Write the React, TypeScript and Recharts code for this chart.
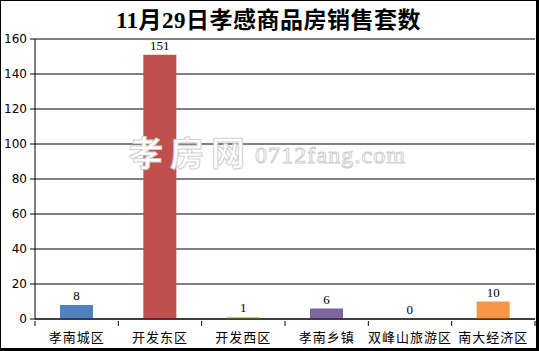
import { Bar, BarChart, CartesianGrid, Cell, XAxis, YAxis } from "recharts";

// data
const districts = ["孝南城区", "开发东区", "开发西区", "孝南乡镇", "双峰山旅游区", "南大经济区"];
const sales = [8, 151, 1, 6, 0, 10];
const yTicks = [0, 20, 40, 60, 80, 100, 120, 140, 160];
const barColors = ["#4F81BD", "#C0504D", "#9BBB59", "#8064A2", "#4BACC6", "#F79646"];

const data = districts.map((name, i) => ({ name, value: sales[i] }));

const W = 539;
const H = 351;
const cjk = '"Noto Sans CJK SC", "Liberation Sans", sans-serif';

// category label plus the boundary tick marks Excel-style
const CategoryTick = (props: any) => {
  const { x, y, payload, index, visibleTicksCount } = props;
  const band = (W - 35 - 4) / districts.length;
  const left = x - band / 2;
  return (
    <g>
      <line x1={left} y1={y} x2={left} y2={y + 5} stroke="#000" />
      {index === (visibleTicksCount ?? districts.length) - 1 && (
        <line x1={x + band / 2} y1={y} x2={x + band / 2} y2={y + 5} stroke="#000" />
      )}
      <text
        x={x}
        y={y + 21}
        textAnchor="middle"
        fontSize={13}
        fontFamily={cjk}
        letterSpacing={1}
        fill="#000"
      >
        {payload.value}
      </text>
    </g>
  );
};

// value above each bar, drawn even when the bar is zero
const ValueLabel = (props: any) => {
  const { x, y, width, height, value } = props;
  const top = Math.min(y, y + height);
  return (
    <text
      x={x + width / 2}
      y={top - 5}
      textAnchor="middle"
      fontSize={13}
      fontFamily='"Liberation Serif", serif'
      fill="#000"
    >
      {value}
    </text>
  );
};

export default function App() {
  return (
    <div
      style={{
        position: "absolute",
        left: 0,
        top: 0,
        width: W,
        height: H,
        background: "#fff",
        boxSizing: "border-box",
        borderLeft: "1px solid #000",
        borderTop: "1px solid #000",
        borderRight: "3px solid #000",
        borderBottom: "3px solid #000",
      }}
    >
      <div
        style={{
          position: "absolute",
          left: 0,
          top: 5,
          width: W - 4,
          textAlign: "center",
          fontFamily: '"Liberation Serif", "Noto Sans CJK SC", serif',
          fontWeight: "bold",
          fontSize: 23,
          lineHeight: "30px",
          letterSpacing: 0.5,
          color: "#000",
        }}
      >
        11月29日孝感商品房销售套数
      </div>
      <div style={{ position: "absolute", left: -1, top: -1 }}>
        <BarChart
          width={W}
          height={H}
          data={data}
          margin={{ top: 39, right: 4, bottom: 0, left: 0 }}
          barCategoryGap="30%"
        >
          <CartesianGrid vertical={false} stroke="#000" strokeWidth={1} />
          <Bar
            dataKey="value"
            isAnimationActive={false}
            minPointSize={(v: number) => (v === 0 ? 0.05 : 0)}
            label={<ValueLabel />}
          >
            {data.map((d, i) => (
              <Cell key={d.name} fill={barColors[i]} />
            ))}
          </Bar>
          <XAxis
            dataKey="name"
            axisLine={{ stroke: "#000" }}
            tickLine={false}
            tickSize={0}
            height={32}
            interval={0}
            tick={<CategoryTick />}
          />
          <YAxis
            domain={[0, 160]}
            ticks={yTicks}
            width={35}
            axisLine={{ stroke: "#000" }}
            tickLine={{ stroke: "#000" }}
            tickSize={5}
            tickMargin={3}
            tick={{ fontSize: 12, fill: "#000", fontFamily: '"DejaVu Sans", sans-serif' }}
          />
        </BarChart>
      </div>
      {/* site watermark */}
      <svg
        width={W}
        height={H}
        style={{ position: "absolute", left: -1, top: -1, pointerEvents: "none" }}
      >
        <text
          x={129}
          y={166}
          fontSize={34}
          fontWeight="bold"
          fontFamily={cjk}
          textLength={116}
          fill="#fff"
          stroke="#d0d0d0"
          strokeWidth={1}
        >
          孝房网
        </text>
        <text
          x={255}
          y={163}
          fontSize={24}
          fontFamily='"Liberation Serif", serif'
          textLength={150}
          fill="#fff"
          stroke="#d0d0d0"
          strokeWidth={1}
        >
          0712fang.com
        </text>
      </svg>
    </div>
  );
}
